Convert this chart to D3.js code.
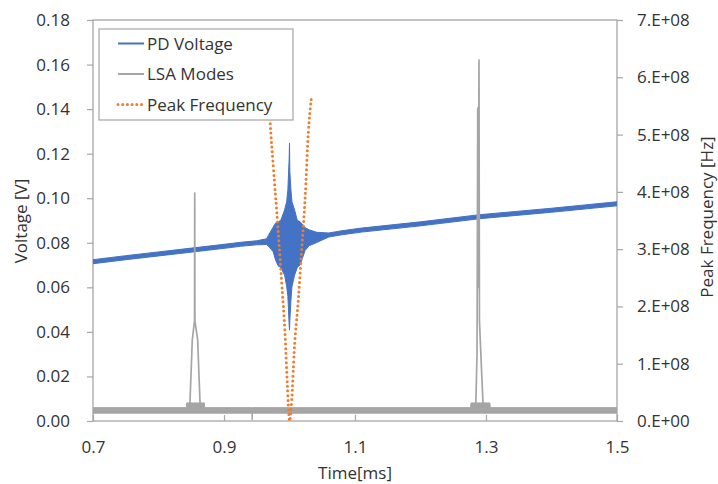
<!DOCTYPE html>
<html>
<head>
<meta charset="utf-8">
<script src="https://cdn.jsdelivr.net/npm/d3@7"></script>
<style>
  html, body { margin: 0; padding: 0; background: #fff; }
  svg { display: block; font-family: "Open Sans", "Noto Sans", sans-serif; }
</style>
</head>
<body>
<svg id="chart" width="718" height="484"></svg>
<script>
// ---- Data -------------------------------------------------------------
// PD Voltage trace, stored as a min/max envelope of the sampled signal
const voltTime = [0.700, 0.750, 0.800, 0.850, 0.900, 0.925, 0.950, 0.965, 0.970, 0.975, 0.979, 0.983, 0.9865, 0.9925, 0.9957, 0.9975, 0.9995, 1.0000, 1.0005, 1.0022, 1.0037, 1.0078, 1.012, 1.016, 1.019, 1.0237, 1.030, 1.0415, 1.060, 1.080, 1.110, 1.200, 1.290, 1.400, 1.500];
const voltLow  = [0.0706, 0.0724, 0.0741, 0.0758, 0.0775, 0.0784, 0.0791, 0.0792, 0.0778, 0.0760, 0.0720, 0.0695, 0.0690, 0.0655, 0.0603, 0.0560, 0.0430, 0.0408, 0.0450, 0.0543, 0.0603, 0.0655, 0.0690, 0.0700, 0.0725, 0.0765, 0.0787, 0.0801, 0.0826, 0.0836, 0.0848, 0.0876, 0.0908, 0.0937, 0.0966];
const voltHigh = [0.0724, 0.0742, 0.0759, 0.0776, 0.0793, 0.0802, 0.0809, 0.0818, 0.0845, 0.0870, 0.0890, 0.0895, 0.0900, 0.0947, 0.0985, 0.1037, 0.1180, 0.1248, 0.1120, 0.1037, 0.0985, 0.0947, 0.0900, 0.0895, 0.0885, 0.0868, 0.0858, 0.0847, 0.0844, 0.0854, 0.0866, 0.0894, 0.0926, 0.0955, 0.0984];

// LSA Modes trace: noise band (min/max envelope) ...
const lsaBandTime = [0.700, 0.8425, 0.843, 0.870, 0.8705, 0.9425, 0.9430, 0.9435, 1.2765, 1.277, 1.306, 1.3065, 1.500];
const lsaBandHigh = [0.0060, 0.0060, 0.0081, 0.0081, 0.0060, 0.0060, 0.0060, 0.0060, 0.0060, 0.0081, 0.0081, 0.0060, 0.0060];
const lsaBandLow  = [0.0035, 0.0035, 0.0035, 0.0035, 0.0035, 0.0035, 0.0005, 0.0035, 0.0035, 0.0035, 0.0035, 0.0035, 0.0035];
// ... and the two mode peaks rising out of it
const lsaPeak1Time  = [0.8480, 0.8516, 0.8550, 0.8553, 0.8556, 0.8598, 0.8634];
const lsaPeak1Value = [0.0081, 0.0364, 0.0450, 0.1023, 0.0450, 0.0364, 0.0081];
const lsaPeak2Time  = [1.2845, 1.2863, 1.2874, 1.2880, 1.2893, 1.2900, 1.2934, 1.2954];
const lsaPeak2Value = [0.0081, 0.0300, 0.1405, 0.0600, 0.1620, 0.0450, 0.0215, 0.0081];

// Peak frequency (secondary axis, Hz)
const freqTime  = [0.9685, 0.9702, 0.9753, 0.9829, 0.9881, 0.9931, 0.9966, 0.9997, 1.0000, 1.0008, 1.0034, 1.0073, 1.0134, 1.0186, 1.0237, 1.0287, 1.0334];
const freqValue = [5.60e8, 5.25e8, 4.44e8, 3.28e8, 2.41e8, 1.54e8, 0.66e8, 0.02e8, 0, 0.02e8, 0.37e8, 1.24e8, 2.11e8, 2.99e8, 3.86e8, 5.03e8, 5.64e8];

// Axis ticks and labels
const timeTicks = [0.7, 0.9, 1.1, 1.3, 1.5];
const voltTicks = [0, 0.02, 0.04, 0.06, 0.08, 0.10, 0.12, 0.14, 0.16, 0.18];
const freqTicks = [0, 1e8, 2e8, 3e8, 4e8, 5e8, 6e8, 7e8];
const freqTickLabels = ["0.E+00", "1.E+08", "2.E+08", "3.E+08", "4.E+08", "5.E+08", "6.E+08", "7.E+08"];

const seriesNames = ["PD Voltage", "LSA Modes", "Peak Frequency"];

// ---- Layout -----------------------------------------------------------
const svg = d3.select("#chart");
const plotL = 93, plotR = 617, plotT = 20, plotB = 421;
const textColor = "#333";
const axisColor = "#a6a6a6";
const blue = "#4472c4", gray = "#a5a5a5", orange = "#ed7d31";
const dotDash = "0 4.7";

const x = d3.scaleLinear().domain([0.7, 1.5]).range([plotL, plotR]);
const yV = d3.scaleLinear().domain([0, 0.18]).range([plotB, plotT]);
const yF = d3.scaleLinear().domain([0, 7e8]).range([plotB, plotT]);

svg.append("defs").append("clipPath").attr("id", "plot-clip")
  .append("rect").attr("x", plotL).attr("y", plotT).attr("width", plotR - plotL).attr("height", plotB - plotT);

// ---- Axes -------------------------------------------------------------
function styleAxis(g) {
  g.select(".domain").remove();
  g.selectAll(".tick line").attr("stroke", axisColor).attr("stroke-width", 1.2);
  g.selectAll(".tick text").attr("fill", textColor).attr("font-size", 17)
    .attr("font-family", "'Open Sans', 'Noto Sans', sans-serif");
}

svg.append("g").attr("transform", `translate(${plotL},0)`)
  .call(d3.axisLeft(yV).tickValues(voltTicks).tickFormat(d3.format(".2f")).tickSize(6).tickPadding(17))
  .call(styleAxis);

svg.append("g").attr("transform", `translate(${plotR},0)`)
  .call(d3.axisRight(yF).tickValues(freqTicks).tickFormat((d, i) => freqTickLabels[i]).tickSize(6).tickPadding(14))
  .call(styleAxis);

svg.append("g").attr("transform", `translate(0,${plotB})`)
  .call(d3.axisBottom(x).tickValues(timeTicks).tickFormat(d3.format(".1f")).tickSizeInner(-6).tickSizeOuter(0).tickPadding(20))
  .call(styleAxis);

// plot frame
svg.append("rect")
  .attr("x", plotL).attr("y", plotT).attr("width", plotR - plotL).attr("height", plotB - plotT)
  .attr("fill", "none").attr("stroke", axisColor).attr("stroke-width", 1.3);

// ---- Series -----------------------------------------------------------
const plot = svg.append("g").attr("clip-path", "url(#plot-clip)");

const voltData = voltTime.map((t, i) => ({ t, lo: voltLow[i], hi: voltHigh[i] }));
const lsaBand = lsaBandTime.map((t, i) => ({ t, lo: lsaBandLow[i], hi: lsaBandHigh[i] }));
const lsaPeaks = [
  lsaPeak1Time.map((t, i) => ({ t, v: lsaPeak1Value[i] })),
  lsaPeak2Time.map((t, i) => ({ t, v: lsaPeak2Value[i] }))
];
const freqData = freqTime.map((t, i) => ({ t, f: freqValue[i] }));

const band = d3.area().x(d => x(d.t)).y0(d => yV(d.lo)).y1(d => yV(d.hi));
const trace = d3.line().x(d => x(d.t)).y(d => yV(d.v));

// PD Voltage
plot.append("path").datum(voltData)
  .attr("d", band).attr("fill", blue).attr("stroke", blue).attr("stroke-width", 1)
  .attr("stroke-linejoin", "round");

// LSA Modes
plot.append("path").datum(lsaBand)
  .attr("d", band).attr("fill", gray).attr("stroke", gray).attr("stroke-width", 1);
plot.selectAll(".lsa-peak").data(lsaPeaks).join("path")
  .attr("class", "lsa-peak")
  .attr("d", trace).attr("fill", "none").attr("stroke", gray).attr("stroke-width", 1.7)
  .attr("stroke-linejoin", "round");

// Peak Frequency
plot.append("path").datum(freqData)
  .attr("d", d3.line().x(d => x(d.t)).y(d => yF(d.f)).curve(d3.curveMonotoneX))
  .attr("fill", "none").attr("stroke", orange).attr("stroke-width", 3)
  .attr("stroke-linecap", "round").attr("stroke-dasharray", dotDash);

// ---- Axis titles ------------------------------------------------------
svg.append("text")
  .attr("transform", "translate(20,221) rotate(-90)")
  .attr("text-anchor", "middle").attr("dominant-baseline", "central")
  .attr("fill", textColor).attr("font-size", 17).text("Voltage [V]");

svg.append("text")
  .attr("transform", "translate(706,217) rotate(-90)")
  .attr("text-anchor", "middle").attr("dominant-baseline", "central")
  .attr("fill", textColor).attr("font-size", 17).text("Peak Frequency [Hz]");

svg.append("text")
  .attr("x", 355).attr("y", 479)
  .attr("text-anchor", "middle")
  .attr("fill", textColor).attr("font-size", 17).text("Time[ms]");

// ---- Legend -----------------------------------------------------------
const legend = svg.append("g");
legend.append("rect")
  .attr("x", 99).attr("y", 29).attr("width", 194).attr("height", 91)
  .attr("fill", "#fff").attr("stroke", axisColor).attr("stroke-width", 1.2);

const legendStyles = [
  { color: blue, width: 2, dash: null, cap: "butt" },
  { color: gray, width: 2, dash: null, cap: "butt" },
  { color: orange, width: 3, dash: dotDash, cap: "round" }
];
const legendRows = [43.5, 74, 104.5];

seriesNames.forEach((name, i) => {
  const s = legendStyles[i];
  legend.append("line")
    .attr("x1", 118).attr("x2", 144).attr("y1", legendRows[i]).attr("y2", legendRows[i])
    .attr("stroke", s.color).attr("stroke-width", s.width)
    .attr("stroke-linecap", s.cap).attr("stroke-dasharray", s.dash);
  legend.append("text")
    .attr("x", 147).attr("y", legendRows[i] + 6.3)
    .attr("fill", textColor).attr("font-size", 17).text(name);
});
</script>
</body>
</html>
